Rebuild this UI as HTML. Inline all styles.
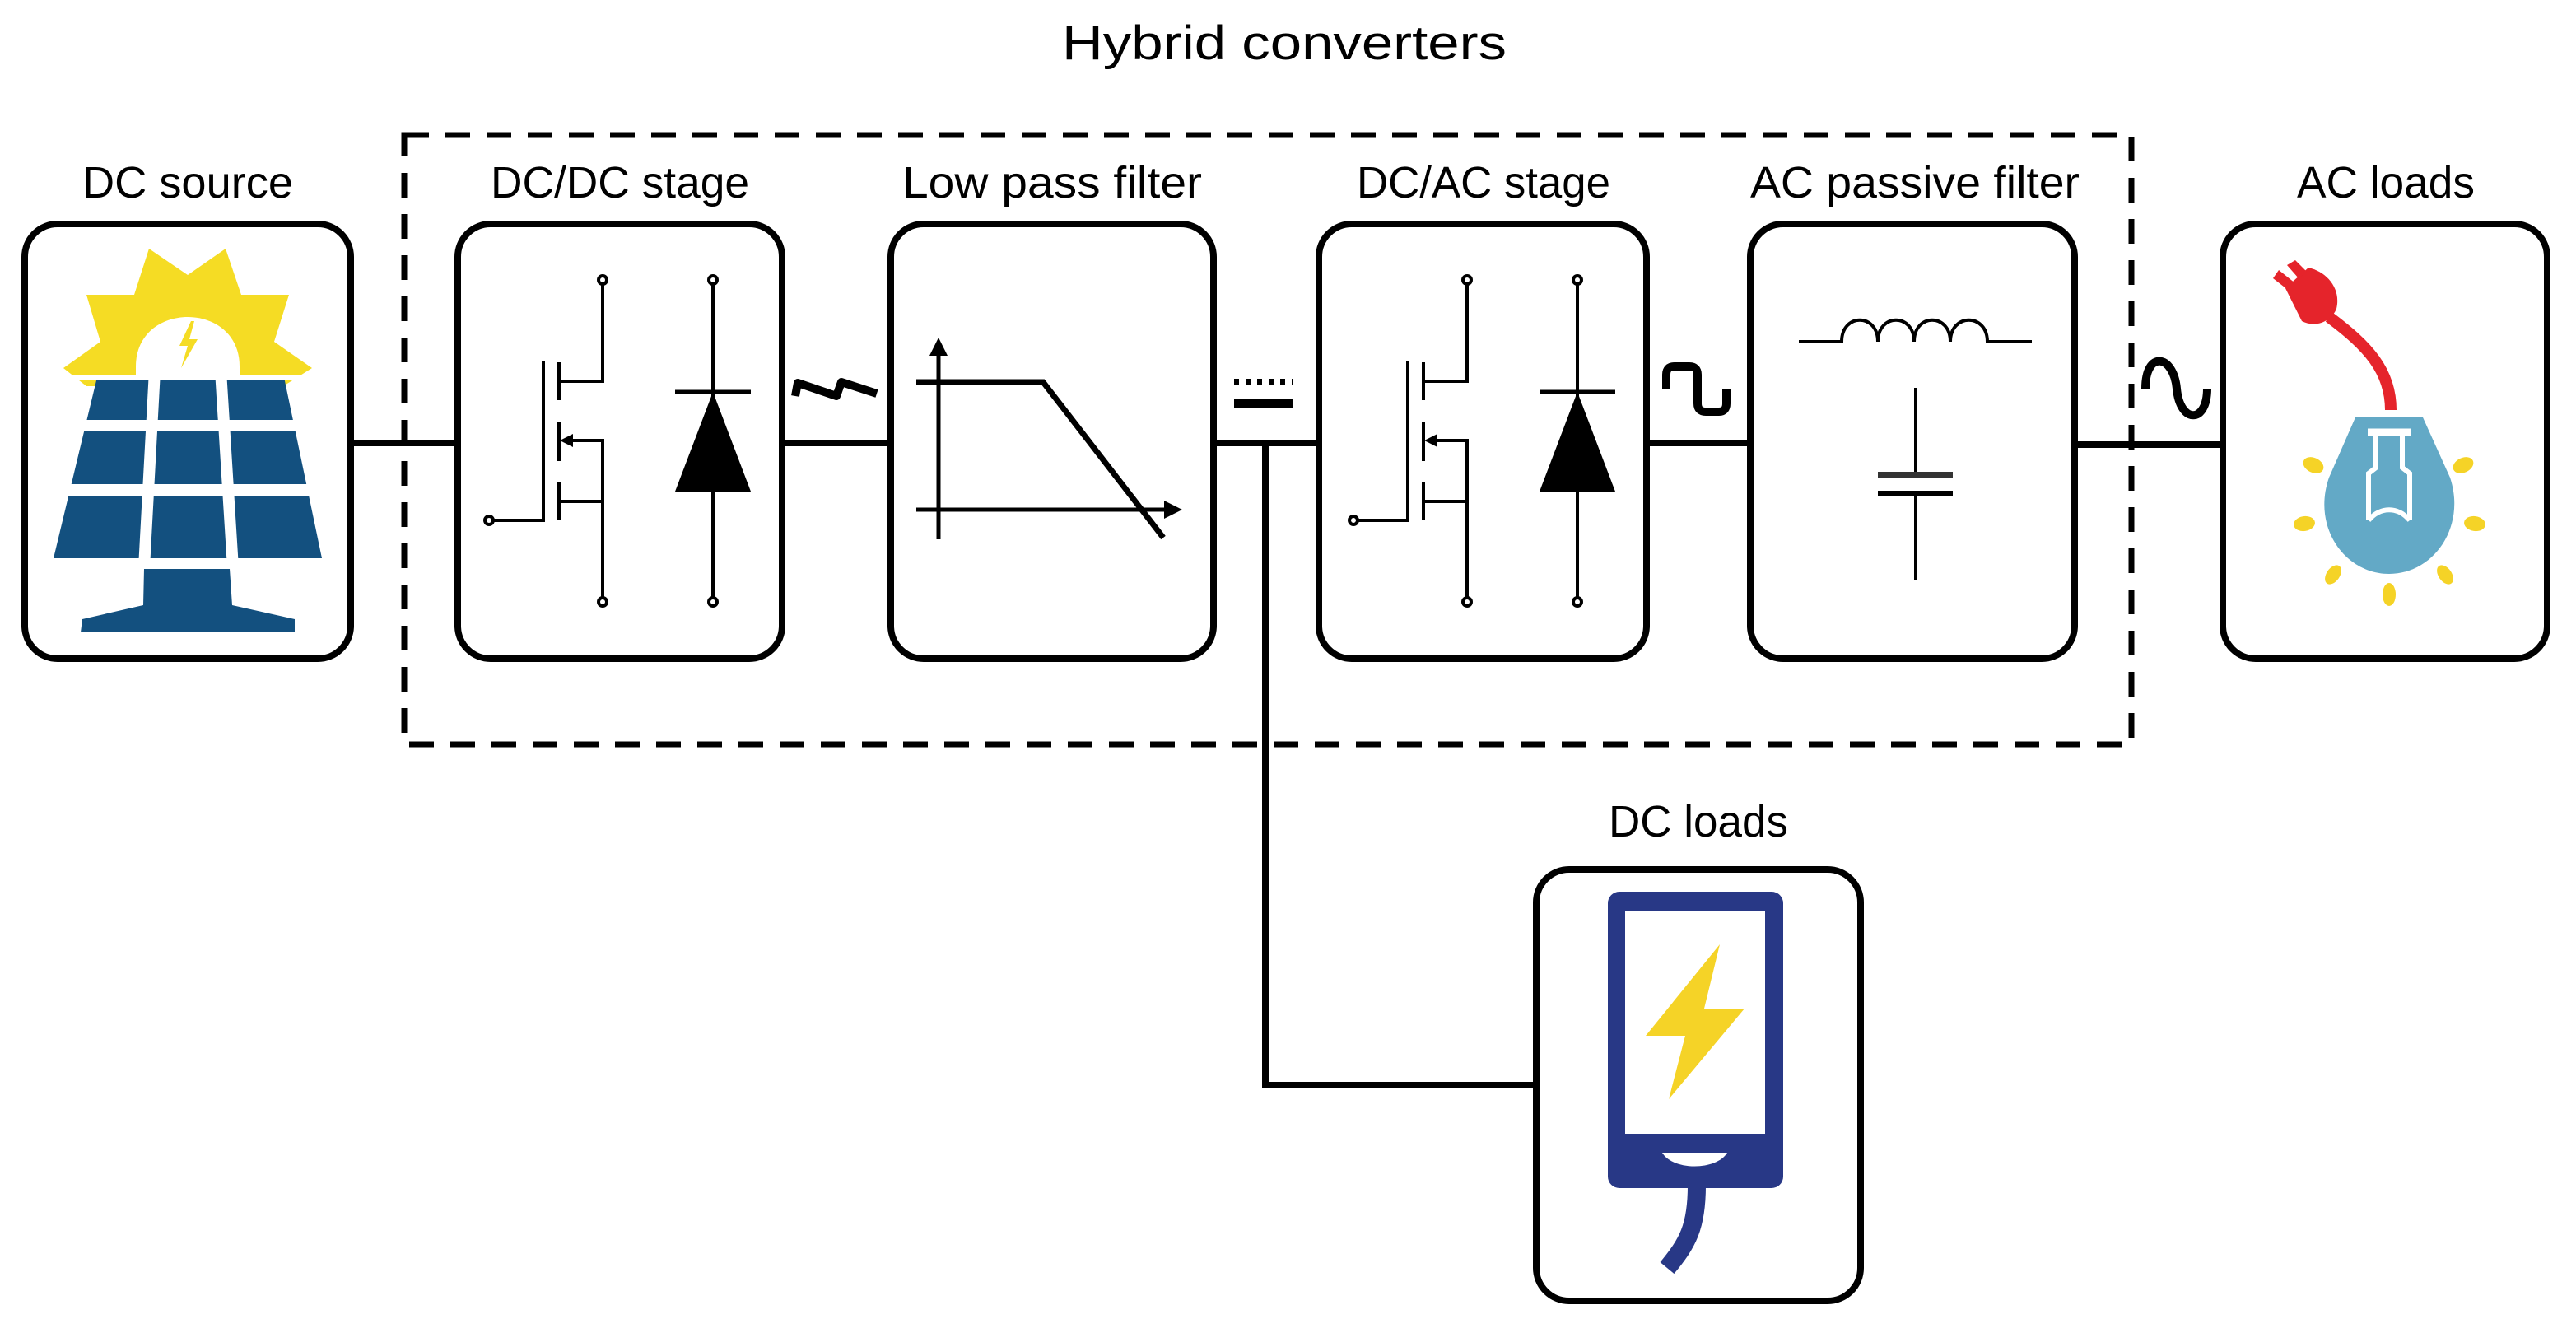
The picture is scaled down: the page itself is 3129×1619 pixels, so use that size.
<!DOCTYPE html>
<html><head><meta charset="utf-8"><style>
html,body{margin:0;padding:0;background:#fff;}
svg{display:block;}
text{font-family:"Liberation Sans",sans-serif;fill:#000;}
</style></head><body>
<svg width="3129" height="1619" viewBox="0 0 3129 1619" xmlns="http://www.w3.org/2000/svg">
<!-- titles -->
<text x="1290" y="72" font-size="58" textLength="540" lengthAdjust="spacingAndGlyphs">Hybrid converters</text>
<g font-size="54">
<text x="100" y="240" textLength="256" lengthAdjust="spacingAndGlyphs">DC source</text>
<text x="596" y="240" textLength="314" lengthAdjust="spacingAndGlyphs">DC/DC stage</text>
<text x="1096" y="240" textLength="364" lengthAdjust="spacingAndGlyphs">Low pass filter</text>
<text x="1648" y="240" textLength="308" lengthAdjust="spacingAndGlyphs">DC/AC stage</text>
<text x="2126" y="240" textLength="400" lengthAdjust="spacingAndGlyphs">AC passive filter</text>
<text x="2790" y="240" textLength="216" lengthAdjust="spacingAndGlyphs">AC loads</text>
<text x="1954" y="1016" textLength="218" lengthAdjust="spacingAndGlyphs">DC loads</text>
</g>
<!-- dashed box -->
<rect x="491" y="164" width="2098" height="740" fill="none" stroke="#000" stroke-width="7" stroke-dasharray="30 20"/>
<!-- connectors -->
<g stroke="#000" stroke-width="8" fill="none">
<line x1="426" y1="538" x2="556" y2="538"/>
<line x1="950" y1="538" x2="1082" y2="538"/>
<line x1="1474" y1="538" x2="1602" y2="538"/>
<line x1="2000" y1="538" x2="2126" y2="538"/>
<line x1="2520" y1="540" x2="2700" y2="540"/>
<polyline points="1537,538 1537,1318 1866,1318"/>
</g>
<!-- boxes -->
<g fill="#fff" stroke="#000" stroke-width="8">
<rect x="30" y="272" width="396" height="528" rx="40"/>
<rect x="556" y="272" width="394" height="528" rx="40"/>
<rect x="1082" y="272" width="392" height="528" rx="40"/>
<rect x="1602" y="272" width="398" height="528" rx="40"/>
<rect x="2126" y="272" width="394" height="528" rx="40"/>
<rect x="2700" y="272" width="394" height="528" rx="40"/>
<rect x="1866" y="1056" width="394" height="524" rx="40"/>
</g>
<!-- symbols between -->
<g fill="none" stroke="#000" stroke-width="10" stroke-linejoin="round">
<polyline points="966,481 969,465 1016,481 1022,464 1065,478"/>
<path d="M2024 472 L2024 455 Q2024 445 2034 445 L2052 445 Q2062 445 2062 455 L2062 490 Q2062 500 2072 500 L2088 500 Q2097 500 2097 490 L2097 472"/>
<path d="M2606 472 C2606 425 2640 430 2644 472 C2648 515 2681 515 2681 472"/>
</g>
<line x1="1499" y1="464" x2="1571" y2="464" stroke="#000" stroke-width="8" stroke-dasharray="6 8"/>
<rect x="1499" y="485" width="72" height="10" fill="#000"/>
<!-- solar -->
<polygon points="181,302 228,334 274,302 293,358 351,358 333,415 379,447 344,469 105,469 77,447 122,415 105,358 163,358" fill="#f5dc24"/>
<path d="M165 470 L165 445 C165 365 291 365 291 445 L291 470 Z" fill="#fff"/>
<polygon points="232,390 218,420 228,420 220,447 240,412 230,412 236,390" fill="#f5dc24"/>
<polygon points="118,458 345,458 391,678 65,678" fill="#13507f"/>
<g stroke="#fff" stroke-width="14">
<line x1="50" y1="517" x2="410" y2="517"/>
<line x1="50" y1="595" x2="410" y2="595"/>
<line x1="188" y1="450" x2="175" y2="690"/>
<line x1="268" y1="450" x2="283" y2="690"/>
</g>
<rect x="60" y="455" width="340" height="6" fill="#fff"/>
<polygon points="175,691 279,691 282,735 358,752 358,768 98,768 100,752 174,735" fill="#13507f"/>
<!-- MOSFET+diode -->
<g id="sw" fill="none" stroke="#000" stroke-width="4">
<polyline points="732,344 732,463 679,463"/>
<line x1="679" y1="440" x2="679" y2="486"/>
<line x1="679" y1="513" x2="679" y2="560"/>
<line x1="679" y1="586" x2="679" y2="632"/>
<polyline points="598,632 660,632 660,438"/>
<polyline points="686,535 732,535 732,727"/>
<line x1="679" y1="609" x2="732" y2="609"/>
<circle cx="732" cy="340" r="5" fill="#fff"/>
<circle cx="732" cy="731" r="5" fill="#fff"/>
<circle cx="594" cy="632" r="5" fill="#fff"/>
<line x1="866" y1="344" x2="866" y2="727"/>
<circle cx="866" cy="340" r="5" fill="#fff"/>
<circle cx="866" cy="731" r="5" fill="#fff"/>
<line x1="820" y1="476" x2="912" y2="476" stroke-width="5"/>
<polygon points="866,476 820,597 912,597" fill="#000" stroke="none"/>
<polygon points="680,535 696,527 696,543" fill="#000" stroke="none"/>
</g>
<use href="#sw" x="1050" y="0"/>
<!-- LPF -->
<g fill="none" stroke="#000">
<line x1="1140" y1="425" x2="1140" y2="655" stroke-width="5"/>
<line x1="1113" y1="619" x2="1422" y2="619" stroke-width="5"/>
<polyline points="1113,464 1267,464 1413,653" stroke-width="7"/>
</g>
<polygon points="1140,410 1129,432 1151,432" fill="#000"/>
<polygon points="1436,619 1414,608 1414,630" fill="#000"/>
<!-- AC filter -->
<g fill="none" stroke="#000" stroke-width="4">
<path d="M2185 415 L2237 415 C2237 380 2281 380 2281 415 C2281 380 2325 380 2325 415 C2325 380 2369 380 2369 415 C2369 380 2414 380 2414 415 L2468 415"/>
<line x1="2327" y1="471" x2="2327" y2="577"/>
<line x1="2327" y1="600" x2="2327" y2="705"/>
</g>
<rect x="2281" y="573" width="91" height="8" fill="#333"/>
<rect x="2281" y="596" width="91" height="7" fill="#000"/>
<!-- AC loads -->
<g transform="translate(-4,0)">
<path d="M2833 385 C2880 420 2908 450 2908 498" fill="none" stroke="#e5242b" stroke-width="14"/>
<g fill="#e5242b">
<path d="M2780 350 L2808 325 C2830 330 2848 350 2842 375 C2835 392 2815 398 2800 390 Z"/>
<polygon points="2783,352 2765,338 2772,328 2792,344"/>
<polygon points="2796,338 2782,322 2792,316 2806,330"/>
</g>
<path d="M2865 507 L2947 507 L2980 580 C3000 640 2960 697 2906 697 C2852 697 2812 640 2833 580 Z" fill="#63a9c6"/>
<g fill="none" stroke="#fff" stroke-width="6">
<line x1="2880" y1="525" x2="2932" y2="525" stroke-width="9"/>
<polyline points="2890,530 2890,568 2881,575 2881,632"/>
<polyline points="2922,530 2922,568 2931,575 2931,632"/>
<path d="M2881 632 C2895 615 2917 615 2931 632"/>
</g>
<g fill="#f5d327">
<ellipse cx="2814" cy="565" rx="13" ry="9" transform="rotate(25 2814 565)"/>
<ellipse cx="2803" cy="636" rx="13" ry="9" transform="rotate(-8 2803 636)"/>
<ellipse cx="2838" cy="698" rx="13" ry="8" transform="rotate(-55 2838 698)"/>
<ellipse cx="2906" cy="722" rx="8" ry="14"/>
<ellipse cx="2974" cy="698" rx="13" ry="8" transform="rotate(55 2974 698)"/>
<ellipse cx="3010" cy="636" rx="13" ry="9" transform="rotate(8 3010 636)"/>
<ellipse cx="2996" cy="565" rx="13" ry="9" transform="rotate(-25 2996 565)"/>
</g>
</g>
<!-- DC loads phone -->
<rect x="1953" y="1083" width="213" height="360" rx="14" fill="#283886"/>
<rect x="1974" y="1106" width="170" height="271" fill="#fff"/>
<path d="M2019 1400 L2098 1400 C2085 1422 2032 1422 2019 1400 Z" fill="#fff"/>
<path d="M2061 1440 C2061 1490 2050 1510 2025 1540" fill="none" stroke="#283886" stroke-width="22"/>
<polygon points="2089,1147 1999,1258 2047,1258 2027,1335 2119,1225 2070,1225" fill="#f5d327"/>
</svg>
</body></html>
